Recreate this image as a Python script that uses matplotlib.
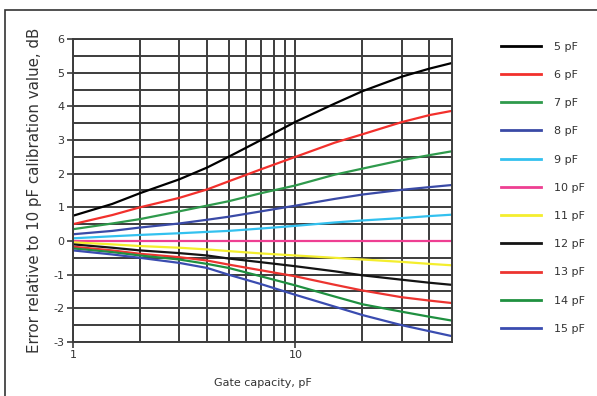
import numpy as np
import matplotlib
matplotlib.use('Agg')
import matplotlib.pyplot as plt
from matplotlib.patches import Rectangle
from matplotlib.ticker import FixedLocator, NullFormatter, FixedFormatter

# gate capacity points (pF) where values were read
cap = [1, 1.5, 2, 3, 4, 5, 7, 10, 15, 20, 30, 40, 50]

err_5 = [0.75, 1.1, 1.42, 1.83, 2.18, 2.5, 3.0, 3.54, 4.08, 4.45, 4.88, 5.12, 5.28]
err_6 = [0.5, 0.77, 1.0, 1.28, 1.53, 1.77, 2.13, 2.5, 2.92, 3.17, 3.53, 3.74, 3.86]
err_7 = [0.35, 0.52, 0.65, 0.88, 1.05, 1.18, 1.42, 1.65, 1.97, 2.15, 2.4, 2.55, 2.66]
err_8 = [0.2, 0.3, 0.4, 0.52, 0.63, 0.72, 0.88, 1.05, 1.25, 1.38, 1.52, 1.6, 1.66]
err_9 = [0.08, 0.14, 0.18, 0.23, 0.27, 0.3, 0.37, 0.45, 0.55, 0.61, 0.68, 0.74, 0.78]
err_10 = [0, 0, 0, 0, 0, 0, 0, 0, 0, 0, 0, 0, 0]
err_11 = [-0.04, -0.1, -0.15, -0.2, -0.25, -0.3, -0.37, -0.43, -0.5, -0.55, -0.62, -0.68, -0.72]
err_12 = [-0.1, -0.2, -0.28, -0.36, -0.43, -0.52, -0.63, -0.75, -0.9, -1.02, -1.15, -1.24, -1.3]
err_13 = [-0.17, -0.28, -0.38, -0.48, -0.58, -0.7, -0.87, -1.05, -1.3, -1.47, -1.67, -1.77, -1.84]
err_14 = [-0.22, -0.33, -0.43, -0.55, -0.68, -0.8, -1.05, -1.32, -1.65, -1.88, -2.1, -2.25, -2.36]
err_15 = [-0.28, -0.4, -0.5, -0.65, -0.8, -1.0, -1.28, -1.6, -1.95, -2.2, -2.5, -2.68, -2.82]

labels = ['5 pF', '6 pF', '7 pF', '8 pF', '9 pF', '10 pF',
          '11 pF', '12 pF', '13 pF', '14 pF', '15 pF']
series = [err_5, err_6, err_7, err_8, err_9, err_10,
          err_11, err_12, err_13, err_14, err_15]
colors = ['#000000', '#f2302c', '#2f9a4c', '#3a4aa6', '#33c1ef', '#ee3f92',
          '#f4ee2e', '#141414', '#ec3430', '#1f9040', '#3a4cb0']

plt.rcParams['axes.unicode_minus'] = False

fig = plt.figure(figsize=(5.97, 3.96), dpi=100)
ax = fig.add_axes([0.1223, 0.1364, 0.757 - 0.1223, 0.9015 - 0.1364])

# outer frame (only left and top visible in the original)
fig.patches.append(Rectangle((5 / 597, -0.1), 1.2, 1 - 10 / 396 + 0.1,
                             transform=fig.transFigure, fill=False,
                             edgecolor='#333333', linewidth=1.2))

ax.set_xscale('log')
ax.set_xlim(1, 50.5)
ax.set_ylim(-3, 6)

# grid
ax.xaxis.set_major_locator(FixedLocator([1, 10]))
ax.xaxis.set_major_formatter(FixedFormatter(['1', '10']))
ax.xaxis.set_minor_locator(FixedLocator([2, 3, 4, 5, 6, 7, 8, 9, 20, 30, 40]))
ax.xaxis.set_minor_formatter(NullFormatter())
ax.set_yticks(range(-3, 7))
ax.set_yticks(np.arange(-2.5, 6, 1.0), minor=True)
ax.grid(True, which='both', color='#3c3c3c', linewidth=1.4)
ax.tick_params(which='major', length=4, width=1.2, color='#3c3c3c',
               labelsize=8, labelcolor='#333333', pad=2)
ax.tick_params(which='minor', length=0)
for sp in ax.spines.values():
    sp.set_color('#3c3c3c')
    sp.set_linewidth(1.4)
ax.set_axisbelow(True)

for y, lab, c in zip(series, labels, colors):
    ax.plot(cap, y, color=c, linewidth=1.6, label=lab)

ax.set_xlabel('Gate capacity, pF', fontsize=8, color='#333333', labelpad=13)
ax.set_ylabel('Error relative to 10 pF calibration value, dB', fontsize=10.8,
              color='#333333', labelpad=8)

leg = fig.legend(loc='upper left', bbox_to_anchor=(0.822, 0.92),
                 frameon=False, fontsize=8, handlelength=3.6, handletextpad=1.2,
                 labelspacing=1.64, labelcolor='#333333')
for line in leg.get_lines():
    line.set_linewidth(2)

fig.savefig('out.png', dpi=100)
